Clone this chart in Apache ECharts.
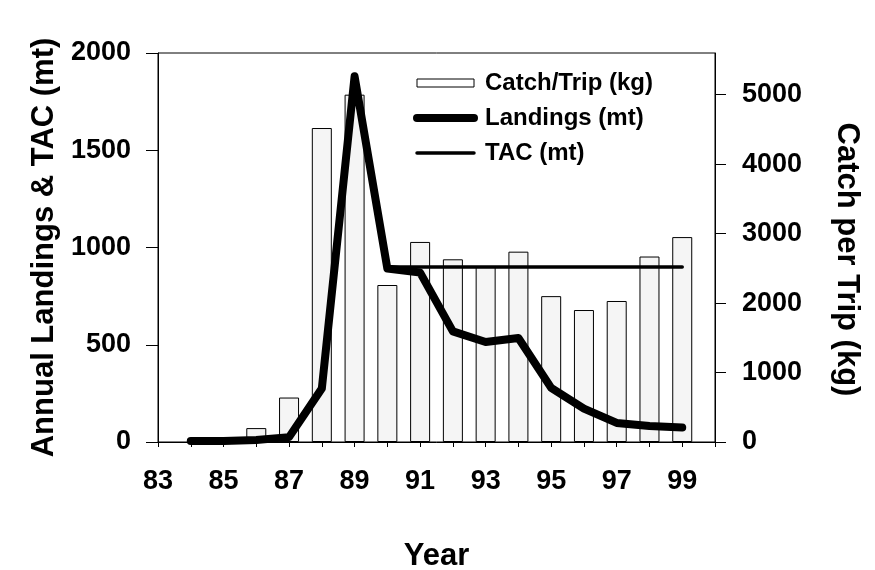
<!DOCTYPE html>
<html>
<head>
<meta charset="utf-8">
<script src="https://cdn.jsdelivr.net/npm/echarts@6/dist/echarts.min.js"></script>
<style>html,body{margin:0;padding:0;background:#fff}#c{width:875px;height:570px}</style>
</head>
<body>
<div id="c"></div>
<script>
// ---- data ----
var barYears = [86, 87, 88, 89, 90, 91, 92, 93, 94, 95, 96, 97, 98, 99];
var catchPerTrip = [200, 640, 4520, 5000, 2260, 2880, 2630, 2520, 2740, 2100, 1900, 2030, 2670, 2950];
var landYears = [84, 85, 86, 87, 88, 89, 90, 91, 92, 93, 94, 95, 96, 97, 98, 99];
var landings = [5, 5, 10, 25, 275, 1880, 892, 871, 569, 514, 535, 278, 172, 98, 82, 74];
var tacYears = [90, 91, 92, 93, 94, 95, 96, 97, 98, 99];
var tac = [900, 900, 900, 900, 900, 900, 900, 900, 900, 900];
var xTickLabels = [83, 85, 87, 89, 91, 93, 95, 97, 99];
var leftTicks = [0, 500, 1000, 1500, 2000];
var rightTicks = [0, 1000, 2000, 3000, 4000, 5000];

function pairs(xs, ys) { return xs.map(function (x, i) { return [x, ys[i]]; }); }
function plain(v) { return String(v); }

var FONT = '"Liberation Sans", Arial, Helvetica, sans-serif';
var tickFont = { fontFamily: FONT, fontWeight: 'bold', fontSize: 27, color: '#000' };
var titleFont = { fontFamily: FONT, fontWeight: 'bold', fontSize: 31, color: '#000' };
var chart = echarts.init(document.getElementById('c'), null, { renderer: 'canvas' });
chart.setOption({
  animation: false,
  backgroundColor: '#fff',
  textStyle: { fontFamily: FONT, color: '#000' },
  grid: { left: 158, right: 160, top: 53, bottom: 128, show: true, borderColor: '#000', borderWidth: 1, backgroundColor: 'transparent', containLabel: false, outerBoundsMode: 'none' },
  legend: {
    orient: 'vertical', left: 408, top: 66, itemWidth: 57, itemHeight: 8, itemGap: 11,
    textStyle: { fontFamily: FONT, fontWeight: 'bold', fontSize: 24, color: '#000', padding: [0, 0, 0, 6] },
    data: [
      { name: 'Catch/Trip (kg)', icon: 'rect', itemStyle: { color: '#fff', borderColor: '#000', borderWidth: 1 } },
      { name: 'Landings (mt)', itemStyle: { opacity: 0 }, lineStyle: { width: 8, color: '#000', cap: 'round' } },
      { name: 'TAC (mt)', itemStyle: { opacity: 0 }, lineStyle: { width: 3.5, color: '#000' } }
    ]
  },
  xAxis: {
    type: 'value', min: 83, max: 100, interval: 1,
    name: 'Year', nameLocation: 'middle', nameGap: 99,
    nameTextStyle: titleFont,
    axisLine: { show: true, onZero: false, lineStyle: { color: '#000', width: 1 } },
    axisTick: { show: true, inside: false, length: 5, lineStyle: { color: '#000' } },
    axisLabel: Object.assign({ customValues: xTickLabels, margin: 26, formatter: plain }, tickFont),
    splitLine: { show: false }
  },
  yAxis: [
    {
      type: 'value', min: 0, max: 2000, interval: 500, position: 'left',
      name: 'Annual Landings & TAC (mt)', nameLocation: 'middle', nameGap: 88,
      nameTextStyle: titleFont,
      axisLine: { show: true, lineStyle: { color: '#000', width: 1 } },
      axisTick: { show: true, length: 12, customValues: leftTicks, lineStyle: { color: '#000' } },
      axisLabel: Object.assign({ customValues: leftTicks, margin: 27, formatter: plain }, tickFont),
      splitLine: { show: false }
    },
    {
      type: 'value', min: 0, max: 5600, interval: 1000, position: 'right',
      name: 'Catch per Trip (kg)', nameLocation: 'middle', nameGap: 116, nameRotate: -90,
      nameTextStyle: Object.assign({ padding: [0, 0, 0, 24] }, titleFont),
      axisLine: { show: true, lineStyle: { color: '#000', width: 1 } },
      axisTick: { show: true, length: 11, customValues: rightTicks, lineStyle: { color: '#000' } },
      axisLabel: Object.assign({ customValues: rightTicks, margin: 27, formatter: plain }, tickFont),
      splitLine: { show: false }
    }
  ],
  series: [
    {
      name: 'Catch/Trip (kg)', type: 'bar', yAxisIndex: 1, barWidth: 20,
      data: pairs(barYears, catchPerTrip),
      itemStyle: { color: '#f5f5f5', borderColor: '#000', borderWidth: 1 },
      z: 1
    },
    {
      name: 'Landings (mt)', type: 'line', yAxisIndex: 0, symbol: 'none',
      data: pairs(landYears, landings),
      lineStyle: { color: '#000', width: 8, cap: 'round', join: 'round' },
      itemStyle: { color: '#000' },
      z: 3
    },
    {
      name: 'TAC (mt)', type: 'line', yAxisIndex: 0, symbol: 'none',
      data: pairs(tacYears, tac),
      lineStyle: { color: '#000', width: 3.5, cap: 'round' },
      itemStyle: { color: '#000' },
      z: 4
    }
  ]
});
</script>
</body>
</html>
